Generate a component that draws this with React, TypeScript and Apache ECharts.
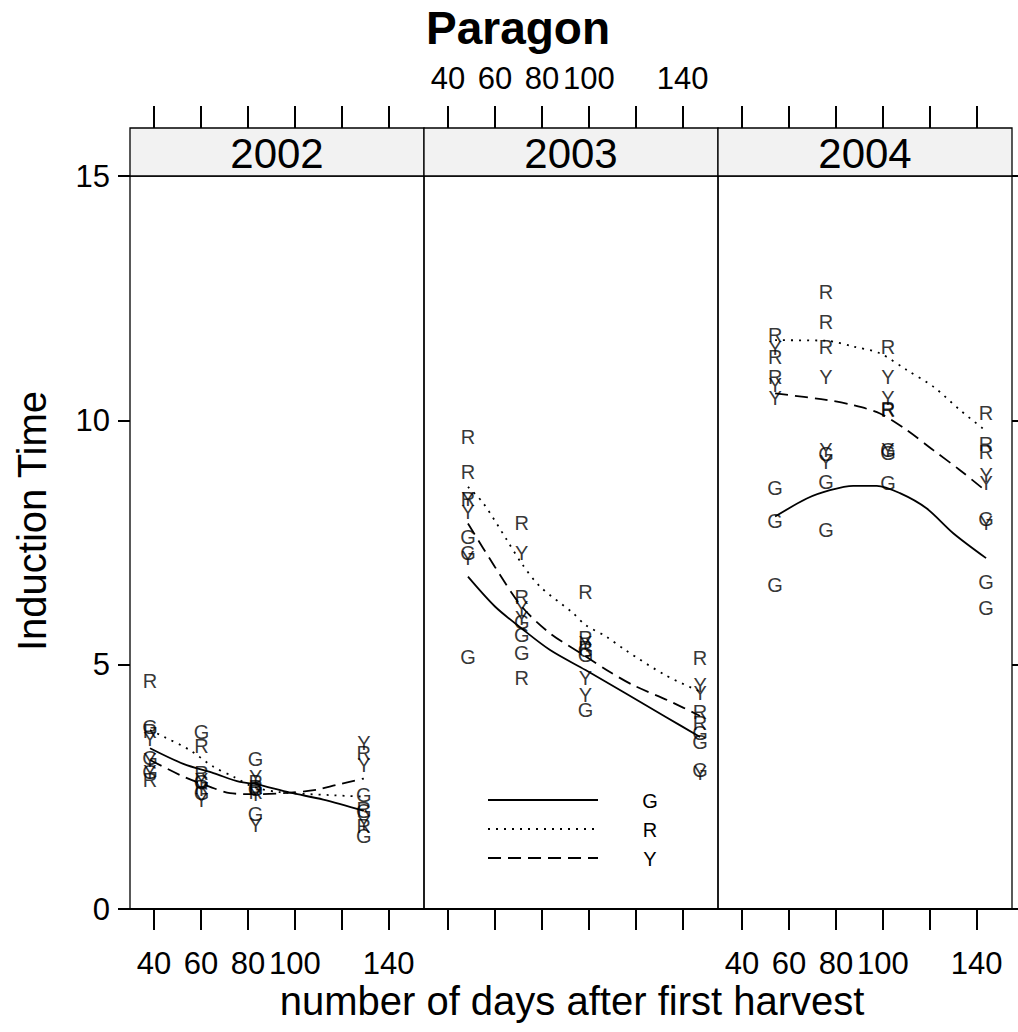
import React, { useEffect, useRef } from "react";
import * as echarts from "echarts";

const years = ["2002", "2003", "2004"];
const letters = ["G", "R", "Y"];
const xTicks = [40, 60, 80, 100, 120, 140];
const xTickLabels = [40, 60, 80, 100, 140];
const yTicks = [0, 5, 10, 15];

// observed points [day, induction time]
const pts2002G = [[38.3, 3.73], [38.3, 3.08], [38.3, 2.81], [60.2, 3.63], [60.2, 2.6], [60.2, 2.37], [83.3, 3.06], [83.3, 2.45], [83.3, 1.94], [129.4, 2.33], [129.4, 2.0], [129.4, 1.5]];
const pts2002R = [[38.3, 4.67], [38.3, 3.65], [38.3, 2.65], [60.2, 3.34], [60.2, 2.79], [60.2, 2.5], [83.3, 2.6], [83.3, 2.5], [83.3, 2.4], [129.4, 3.19], [129.4, 2.05], [129.4, 1.7]];
const pts2002Y = [[38.3, 3.47], [38.3, 3.05], [38.3, 2.8], [60.2, 2.65], [60.2, 2.45], [60.2, 2.23], [83.3, 2.71], [83.3, 2.35], [83.3, 1.72], [129.4, 3.39], [129.4, 2.95], [129.4, 1.75]];

const pts2003G = [[48.5, 7.62], [48.5, 7.28], [48.5, 5.16], [71.4, 5.88], [71.4, 5.61], [71.4, 5.23], [98.6, 5.3], [98.6, 5.2], [98.6, 4.07], [147.4, 3.6], [147.4, 3.42], [147.4, 2.84]];
const pts2003R = [[48.5, 9.66], [48.5, 8.95], [48.5, 8.4], [71.4, 7.89], [71.4, 6.39], [71.4, 4.72], [98.6, 6.49], [98.6, 5.55], [98.6, 5.35], [147.4, 5.13], [147.4, 4.04], [147.4, 3.8]];
const pts2003Y = [[48.5, 8.38], [48.5, 8.13], [48.5, 7.18], [71.4, 7.28], [71.4, 6.15], [71.4, 5.95], [98.6, 5.45], [98.6, 4.72], [98.6, 4.38], [147.4, 4.58], [147.4, 4.41], [147.4, 2.78]];

const pts2004G = [[54.1, 8.61], [54.1, 7.93], [54.1, 6.63], [75.8, 9.32], [75.8, 8.74], [75.8, 7.75], [102.2, 9.4], [102.2, 9.33], [102.2, 8.71], [144.0, 7.99], [144.0, 6.7], [144.0, 6.15]];
const pts2004R = [[54.1, 11.74], [54.1, 11.3], [54.1, 10.89], [75.8, 12.63], [75.8, 12.02], [75.8, 11.5], [102.2, 11.5], [102.2, 10.23], [102.2, 10.21], [144.0, 10.14], [144.0, 9.52], [144.0, 9.36]];
const pts2004Y = [[54.1, 11.48], [54.1, 10.72], [54.1, 10.45], [75.8, 10.89], [75.8, 9.39], [75.8, 9.15], [102.2, 10.89], [102.2, 10.45], [102.2, 9.39], [144.0, 8.88], [144.0, 8.71], [144.0, 7.89]];

// smoothed curves
const fit2002G = [[38.3, 3.29], [52.5, 2.97], [65.3, 2.78], [76.6, 2.6], [83.0, 2.56], [98.0, 2.38], [112.1, 2.24], [129.4, 2.01]];
const fit2002R = [[38.3, 3.66], [44.0, 3.53], [55.3, 3.25], [65.3, 2.91], [73.8, 2.71], [82.3, 2.5], [93.7, 2.39], [115.0, 2.33], [129.4, 2.3]];
const fit2002Y = [[38.3, 3.05], [52.5, 2.71], [63.9, 2.5], [72.4, 2.37], [83.8, 2.35], [98.0, 2.38], [109.3, 2.44], [117.8, 2.54], [129.4, 2.67]];

const fit2003G = [[48.5, 6.8], [60.0, 6.19], [71.4, 5.74], [83.5, 5.3], [98.6, 4.89], [115.8, 4.41], [132.8, 3.93], [147.4, 3.52]];
const fit2003R = [[48.5, 8.64], [55.1, 8.3], [65.1, 7.55], [71.4, 7.07], [79.2, 6.6], [93.4, 6.05], [98.6, 5.81], [107.6, 5.57], [115.8, 5.29], [132.8, 4.78], [147.4, 4.45]];
const fit2003Y = [[48.5, 7.89], [60.0, 7.0], [71.4, 6.19], [83.5, 5.64], [97.7, 5.2], [109.0, 4.85], [118.9, 4.58], [134.6, 4.25], [147.4, 3.95]];

const fit2004G = [[54.1, 8.03], [67.6, 8.4], [77.5, 8.57], [87.4, 8.66], [97.4, 8.66], [107.3, 8.51], [118.6, 8.2], [130.0, 7.69], [144.0, 7.18]];
const fit2004R = [[54.1, 11.64], [75.8, 11.63], [87.4, 11.51], [98.8, 11.37], [110.2, 11.03], [121.5, 10.69], [132.9, 10.21], [144.0, 9.78]];
const fit2004Y = [[54.1, 10.55], [75.8, 10.42], [87.4, 10.31], [98.8, 10.14], [110.2, 9.8], [121.5, 9.39], [132.9, 8.98], [144.0, 8.55]];

const points = [
  [pts2002G, pts2002R, pts2002Y],
  [pts2003G, pts2003R, pts2003Y],
  [pts2004G, pts2004R, pts2004Y],
];
const fits = [
  [fit2002G, fit2002R, fit2002Y],
  [fit2003G, fit2003R, fit2003Y],
  [fit2004G, fit2004R, fit2004Y],
];

const FONT = "'Liberation Sans', Arial, Helvetica, sans-serif";
const X_MIN = 29.77;
const X_MAX = 155.04;
const GRID_L = 130;
const GRID_W = 294;
const GRID_T = 176;
const GRID_H = 733;
const STRIP_H = 48;
const dashTypes: any[] = ["solid", [2, 6], [13, 7]];

export default function App() {
  const ref = useRef<HTMLDivElement>(null);
  useEffect(() => {
    if (!ref.current) return;
    const chart = echarts.init(ref.current, undefined, { renderer: "svg" });

    const grids = years.map((_, i) => ({
      left: GRID_L + GRID_W * i,
      top: GRID_T,
      width: GRID_W,
      height: GRID_H,
      show: true,
      borderColor: "#000",
      borderWidth: 1.3,
      backgroundColor: "transparent",
    }));

    const xAxes: any[] = [];
    years.forEach((_, i) => {
      xAxes.push({
        type: "value",
        gridIndex: i,
        position: "bottom",
        min: X_MIN,
        max: X_MAX,
        splitLine: { show: false },
        axisLine: { show: true, onZero: false, lineStyle: { color: "#000", width: 2 } },
        axisTick: { show: true, inside: false, length: 21, customValues: xTicks, lineStyle: { color: "#000", width: 2 } },
        axisLabel: {
          show: i !== 1,
          customValues: xTickLabels,
          margin: 39,
          fontSize: 31,
          color: "#000",
          fontFamily: FONT,
        },
      });
      xAxes.push({
        type: "value",
        gridIndex: i,
        position: "top",
        offset: STRIP_H,
        min: X_MIN,
        max: X_MAX,
        splitLine: { show: false },
        axisLine: { show: false, onZero: false },
        axisTick: { show: true, inside: false, length: 22, customValues: xTicks, lineStyle: { color: "#000", width: 2 } },
        axisLabel: {
          show: i === 1,
          customValues: xTickLabels,
          margin: 34,
          fontSize: 31,
          color: "#000",
          fontFamily: FONT,
        },
      });
    });

    const yAxes: any[] = years.map((_, i) => ({
      type: "value",
      gridIndex: i,
      position: i === 2 ? "right" : "left",
      min: 0,
      max: 15,
      interval: 5,
      splitLine: { show: false },
      axisLine: { show: false, onZero: false },
      axisTick: { show: i !== 1, length: 12, customValues: yTicks, lineStyle: { color: "#000", width: 2 } },
      axisLabel: {
        show: i === 0,
        customValues: yTicks,
        margin: 20,
        fontSize: 31,
        color: "#000",
        fontFamily: FONT,
      },
    }));

    const series: any[] = [];
    years.forEach((_, i) => {
      letters.forEach((L, c) => {
        series.push({
          type: "line",
          name: L,
          xAxisIndex: 2 * i,
          yAxisIndex: i,
          data: fits[i][c],
          showSymbol: false,
          symbol: "none",
          smooth: 0.3,
          silent: true,
          lineStyle: { color: "#000", width: 1.8, type: dashTypes[c] },
          z: 3,
        });
        series.push({
          type: "scatter",
          name: L + " points",
          xAxisIndex: 2 * i,
          yAxisIndex: i,
          data: points[i][c],
          symbol: "rect",
          symbolSize: 1,
          silent: true,
          itemStyle: { color: "rgba(0,0,0,0)" },
          label: {
            show: true,
            position: "inside",
            formatter: () => L,
            fontSize: 20,
            color: "#000",
            fontFamily: FONT,
          },
          z: 4,
        });
      });
    });

    const graphics: any[] = [];
    years.forEach((y, i) => {
      graphics.push({
        type: "rect",
        shape: { x: GRID_L + GRID_W * i, y: GRID_T - STRIP_H, width: GRID_W, height: STRIP_H },
        style: { fill: "#f2f2f2", stroke: "#000", lineWidth: 1.3 },
        z: 1,
      });
      graphics.push({
        type: "text",
        x: GRID_L + GRID_W * i + GRID_W / 2,
        y: GRID_T - STRIP_H / 2 + 1,
        style: { text: y, fontSize: 42, fontFamily: FONT, fill: "#000", textAlign: "center", textVerticalAlign: "middle" },
        z: 2,
      });
    });
    graphics.push({
      type: "text",
      x: 518,
      y: 28,
      style: { text: "Paragon", fontSize: 46, fontWeight: "bold", fontFamily: FONT, fill: "#000", textAlign: "center", textVerticalAlign: "middle" },
    });
    graphics.push({
      type: "text",
      x: 32,
      y: 521,
      rotation: Math.PI / 2,
      style: { text: "Induction Time", fontSize: 40, fontFamily: FONT, fill: "#000", textAlign: "center", textVerticalAlign: "middle" },
    });
    graphics.push({
      type: "text",
      x: 572,
      y: 1001,
      style: { text: "number of days after first harvest", fontSize: 40, fontFamily: FONT, fill: "#000", textAlign: "center", textVerticalAlign: "middle" },
    });
    const legendY = [800, 829, 858];
    letters.forEach((L, c) => {
      graphics.push({
        type: "line",
        shape: { x1: 488, y1: legendY[c], x2: 598, y2: legendY[c] },
        style: { stroke: "#000", lineWidth: 1.8, lineDash: c === 0 ? null : dashTypes[c] },
      });
      graphics.push({
        type: "text",
        x: 650,
        y: legendY[c] + 1,
        style: { text: L, fontSize: 20, fontFamily: FONT, fill: "#000", textAlign: "center", textVerticalAlign: "middle" },
      });
    });

    chart.setOption({
      animation: false,
      backgroundColor: "#fff",
      grid: grids,
      xAxis: xAxes,
      yAxis: yAxes,
      series,
      graphic: graphics,
    });
    return () => chart.dispose();
  }, []);

  return <div ref={ref} style={{ position: "absolute", left: 0, top: 0, width: 1018, height: 1032 }} />;
}
